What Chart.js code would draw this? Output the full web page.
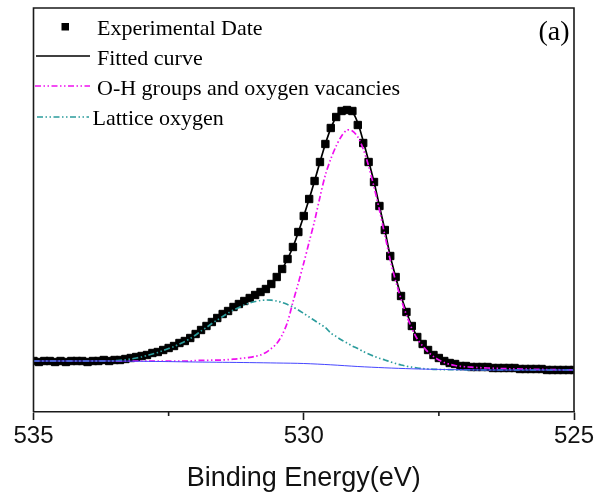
<!DOCTYPE html>
<html>
<head>
<meta charset="utf-8">
<script src="https://cdn.jsdelivr.net/npm/chart.js@4.4.0/dist/chart.umd.min.js"></script>
<style>
  html, body { margin: 0; padding: 0; background: #fff; }
  #wrap { width: 600px; height: 499px; }
</style>
</head>
<body>
<div id="wrap"><canvas id="c" width="600" height="499"></canvas></div>
<script>
// O 1s spectrum: binding energy (eV) and intensity (kcps)
const energies = [
  535.0, 534.9, 534.8, 534.7, 534.6, 534.5, 534.4, 534.3, 534.2, 534.1,
  534.0, 533.9, 533.8, 533.7, 533.6, 533.5, 533.4, 533.3, 533.2, 533.1,
  533.0, 532.9, 532.8, 532.7, 532.6, 532.5, 532.4, 532.3, 532.2, 532.1,
  532.0, 531.9, 531.8, 531.7, 531.6, 531.5, 531.4, 531.3, 531.2, 531.1,
  531.0, 530.9, 530.8, 530.7, 530.6, 530.5, 530.4, 530.3, 530.2, 530.1,
  530.0, 529.9, 529.8, 529.7, 529.6, 529.5, 529.4, 529.3, 529.2, 529.1,
  529.0, 528.9, 528.8, 528.7, 528.6, 528.5, 528.4, 528.3, 528.2, 528.1,
  528.0, 527.9, 527.8, 527.7, 527.6, 527.5, 527.4, 527.3, 527.2, 527.1,
  527.0, 526.9, 526.8, 526.7, 526.6, 526.5, 526.4, 526.3, 526.2, 526.1,
  526.0, 525.9, 525.8, 525.7, 525.6, 525.5, 525.4, 525.3, 525.2, 525.1,
  525.0
];

const experimental = [
  5.1, 5.0, 5.1, 5.1, 5.0, 5.1, 5.0, 5.1, 5.1, 5.1,
  5.0, 5.1, 5.1, 5.2, 5.1, 5.2, 5.2, 5.3, 5.4, 5.5,
  5.6, 5.7, 5.9, 6.0, 6.2, 6.4, 6.6, 6.9, 7.1, 7.4,
  7.8, 8.2, 8.6, 9.0, 9.4, 9.8, 10.1, 10.5, 10.8, 11.1,
  11.4, 11.7, 12.0, 12.3, 12.8, 13.5, 14.3, 15.3, 16.5, 18.0,
  19.6, 21.3, 23.1, 25.0, 26.8, 28.4, 29.5, 30.1, 30.2, 30.1,
  28.7, 26.9, 25.0, 23.0, 20.6, 18.2, 15.6, 13.5, 11.6, 10.0,
  8.6, 7.5, 6.8, 6.2, 5.7, 5.4, 5.1, 4.9, 4.8, 4.6,
  4.6, 4.5, 4.5, 4.5, 4.5, 4.4, 4.4, 4.4, 4.4, 4.4,
  4.3, 4.3, 4.3, 4.3, 4.3, 4.2, 4.2, 4.2, 4.2, 4.2,
  4.2
];

const fitted = [
  5.1, 5.1, 5.1, 5.1, 5.1, 5.1, 5.1, 5.1, 5.1, 5.1,
  5.1, 5.1, 5.1, 5.1, 5.1, 5.15, 5.2, 5.26, 5.34, 5.44,
  5.56, 5.7, 5.86, 6.02, 6.2, 6.4, 6.62, 6.86, 7.12, 7.42,
  7.78, 8.18, 8.58, 8.98, 9.38, 9.76, 10.12, 10.46, 10.78, 11.08,
  11.38, 11.68, 12.0, 12.34, 12.8, 13.46, 14.3, 15.3, 16.5, 17.98,
  19.6, 21.3, 23.1, 25.0, 26.8, 28.36, 29.5, 30.1, 30.22, 30.0,
  28.9, 27.1, 25.1, 23.0, 20.6, 18.2, 15.6, 13.5, 11.6, 10.0,
  8.62, 7.52, 6.8, 6.22, 5.72, 5.36, 5.1, 4.9, 4.76, 4.64,
  4.56, 4.5, 4.46, 4.43, 4.41, 4.39, 4.37, 4.35, 4.33, 4.31,
  4.3, 4.29, 4.28, 4.27, 4.26, 4.25, 4.24, 4.23, 4.22, 4.21,
  4.2
];

const ohGroups = [
  5.1, 5.1, 5.1, 5.1, 5.1, 5.1, 5.1, 5.1, 5.1, 5.1,
  5.1, 5.1, 5.1, 5.1, 5.1, 5.1, 5.1, 5.1, 5.1, 5.1,
  5.1, 5.1, 5.1, 5.1, 5.1, 5.1, 5.1, 5.1, 5.1, 5.1,
  5.15, 5.16, 5.17, 5.18, 5.19, 5.2, 5.24, 5.28, 5.34, 5.4,
  5.47, 5.57, 5.7, 5.95, 6.35, 6.85, 7.7, 9.0, 11.0, 12.9,
  14.9, 17.0, 19.1, 21.5, 23.7, 25.3, 26.6, 27.6, 28.2, 28.1,
  27.5, 26.3, 24.6, 22.5, 20.2, 17.7, 15.2, 13.1, 11.3, 9.7,
  8.35, 7.3, 6.6, 6.0, 5.55, 5.2, 4.95, 4.77, 4.65, 4.57,
  4.52, 4.48, 4.45, 4.42, 4.4, 4.38, 4.36, 4.34, 4.32, 4.31,
  4.3, 4.29, 4.28, 4.27, 4.26, 4.25, 4.24, 4.23, 4.22, 4.21,
  4.2
];

const lattice = [
  5.1, 5.1, 5.1, 5.1, 5.1, 5.1, 5.1, 5.1, 5.1, 5.1,
  5.1, 5.1, 5.1, 5.1, 5.1, 5.13, 5.17, 5.22, 5.3, 5.4,
  5.5, 5.65, 5.8, 5.95, 6.15, 6.35, 6.55, 6.8, 7.05, 7.35,
  7.7, 8.1, 8.45, 8.85, 9.2, 9.55, 9.9, 10.2, 10.45, 10.7,
  10.9, 11.05, 11.15, 11.2, 11.18, 11.1, 10.95, 10.75, 10.5, 10.2,
  9.85, 9.5, 9.15, 8.8, 8.45, 7.9, 7.55, 7.2, 6.9, 6.6,
  6.35, 6.05, 5.8, 5.57, 5.37, 5.2, 5.02, 4.85, 4.7, 4.58,
  4.48, 4.4, 4.34, 4.3, 4.27, 4.25, 4.24, 4.23, 4.22, 4.21,
  4.2, 4.2, 4.2, 4.2, 4.2, 4.2, 4.2, 4.2, 4.2, 4.2,
  4.2, 4.2, 4.2, 4.2, 4.2, 4.2, 4.2, 4.2, 4.2, 4.2,
  4.2
];

// Shirley background, sampled every 0.5 eV
const bgEnergies = [
  535.0, 534.5, 534.0, 533.5, 533.0, 532.5, 532.0, 531.5, 531.0, 530.5,
  530.0, 529.5, 529.0, 528.5, 528.0, 527.5, 527.0, 526.5, 526.0, 525.5,
  525.0
];
const background = [
  5.1, 5.1, 5.1, 5.1, 5.07, 5.04, 5.0, 4.97, 4.94, 4.9,
  4.85, 4.72, 4.55, 4.42, 4.32, 4.26, 4.22, 4.2, 4.2, 4.2,
  4.2
];

const majorTicks = [535, 530, 525];
const minorTicks = [532.5, 527.5];
const legendLabels = ['Experimental Date', 'Fitted curve', 'O-H groups and oxygen vacancies', 'Lattice oxygen'];
const panelLabel = '(a)';
const axisTitle = 'Binding Energy(eV)';

const SANS = '"Liberation Sans", Arial, sans-serif';
const SERIF = '"Liberation Serif", "Times New Roman", serif';
const DASH_DOT_DOT = [6, 2.5, 1.5, 2.5, 1.5, 2.5];
const COLORS = { exp: '#000000', fit: '#000000', oh: '#f010f0', lat: '#2b9c9c', bg: '#4646ff', frame: '#1a1a1a' };

const toPoints = (xs, ys) => xs.map((x, i) => ({ x, y: ys[i] }));

// Frame, minor ticks, in-plot legend and panel letter
const decorations = {
  id: 'decorations',
  afterDatasetsDraw(chart) {
    const { ctx, chartArea: a, scales: { x } } = chart;
    ctx.save();
    ctx.strokeStyle = COLORS.frame;
    ctx.lineWidth = 1.6;
    ctx.beginPath();
    ctx.moveTo(a.left, a.bottom);
    ctx.lineTo(a.left, a.top);
    ctx.lineTo(a.right, a.top);
    ctx.lineTo(a.right, a.bottom);
    ctx.stroke();

    ctx.beginPath();
    minorTicks.forEach(v => {
      const px = x.getPixelForValue(v);
      ctx.moveTo(px, a.bottom);
      ctx.lineTo(px, a.bottom + 4);
    });
    ctx.stroke();

    // legend
    ctx.fillStyle = '#000';
    ctx.font = '22px ' + SERIF;
    ctx.textAlign = 'left';
    ctx.textBaseline = 'alphabetic';

    ctx.fillRect(61.5, 23, 7.5, 7.5);
    ctx.fillText(legendLabels[0], 97, 35);

    ctx.setLineDash([]);
    ctx.strokeStyle = COLORS.fit;
    ctx.lineWidth = 1.7;
    ctx.beginPath(); ctx.moveTo(36, 56); ctx.lineTo(90, 56); ctx.stroke();
    ctx.fillText(legendLabels[1], 97, 65);

    ctx.setLineDash(DASH_DOT_DOT);
    ctx.strokeStyle = COLORS.oh;
    ctx.beginPath(); ctx.moveTo(35, 86); ctx.lineTo(90, 86); ctx.stroke();
    ctx.fillText(legendLabels[2], 97, 94.5);

    ctx.strokeStyle = COLORS.lat;
    ctx.beginPath(); ctx.moveTo(37, 117); ctx.lineTo(89, 117); ctx.stroke();
    ctx.fillText(legendLabels[3], 92.5, 124.5);
    ctx.setLineDash([]);

    ctx.font = '28px ' + SERIF;
    ctx.textAlign = 'right';
    ctx.fillText(panelLabel, 569.5, 39.5);
    ctx.restore();
  }
};

new Chart(document.getElementById('c'), {
  type: 'line',
  data: {
    datasets: [
      {
        label: legendLabels[0], data: toPoints(energies, experimental), showLine: false,
        pointStyle: 'rect', pointRadius: 5.2, pointBorderWidth: 1,
        pointBackgroundColor: COLORS.exp, pointBorderColor: COLORS.exp, order: 5
      },
      {
        label: legendLabels[1], data: toPoints(energies, fitted), borderColor: COLORS.fit,
        borderWidth: 1.7, pointRadius: 0, tension: 0.3, fill: false, order: 4
      },
      {
        label: legendLabels[2], data: toPoints(energies, ohGroups), borderColor: COLORS.oh,
        borderWidth: 1.7, borderDash: DASH_DOT_DOT, pointRadius: 0, tension: 0.3, fill: false, order: 3
      },
      {
        label: legendLabels[3], data: toPoints(energies, lattice), borderColor: COLORS.lat,
        borderWidth: 1.7, borderDash: DASH_DOT_DOT, pointRadius: 0, tension: 0.3, fill: false, order: 2
      },
      {
        label: 'Background', data: toPoints(bgEnergies, background), borderColor: COLORS.bg,
        borderWidth: 1, pointRadius: 0, tension: 0.3, fill: false, order: 1
      }
    ]
  },
  options: {
    responsive: false,
    animation: false,
    devicePixelRatio: 1,
    layout: { padding: { left: 33.5, right: 26, top: 8, bottom: 0 } },
    plugins: { legend: { display: false }, tooltip: { enabled: false } },
    scales: {
      x: {
        type: 'linear', reverse: true, min: 525, max: 535,
        afterBuildTicks: s => { s.ticks = majorTicks.map(v => ({ value: v })); },
        afterFit: s => { s.height = 87; },
        ticks: { font: { family: SANS, size: 24 }, color: '#111', padding: 2, maxRotation: 0, autoSkip: false },
        grid: { display: true, drawOnChartArea: false, drawTicks: true, tickLength: 8, tickColor: COLORS.frame, tickWidth: 1.6 },
        border: { display: true, color: COLORS.frame, width: 1.6 },
        title: { display: true, text: axisTitle, font: { family: SANS, size: 27 }, color: '#111', padding: { top: 0, bottom: 4 } }
      },
      y: { display: false, min: 0, max: 40.4 }
    }
  },
  plugins: [decorations]
});
</script>
</body>
</html>
